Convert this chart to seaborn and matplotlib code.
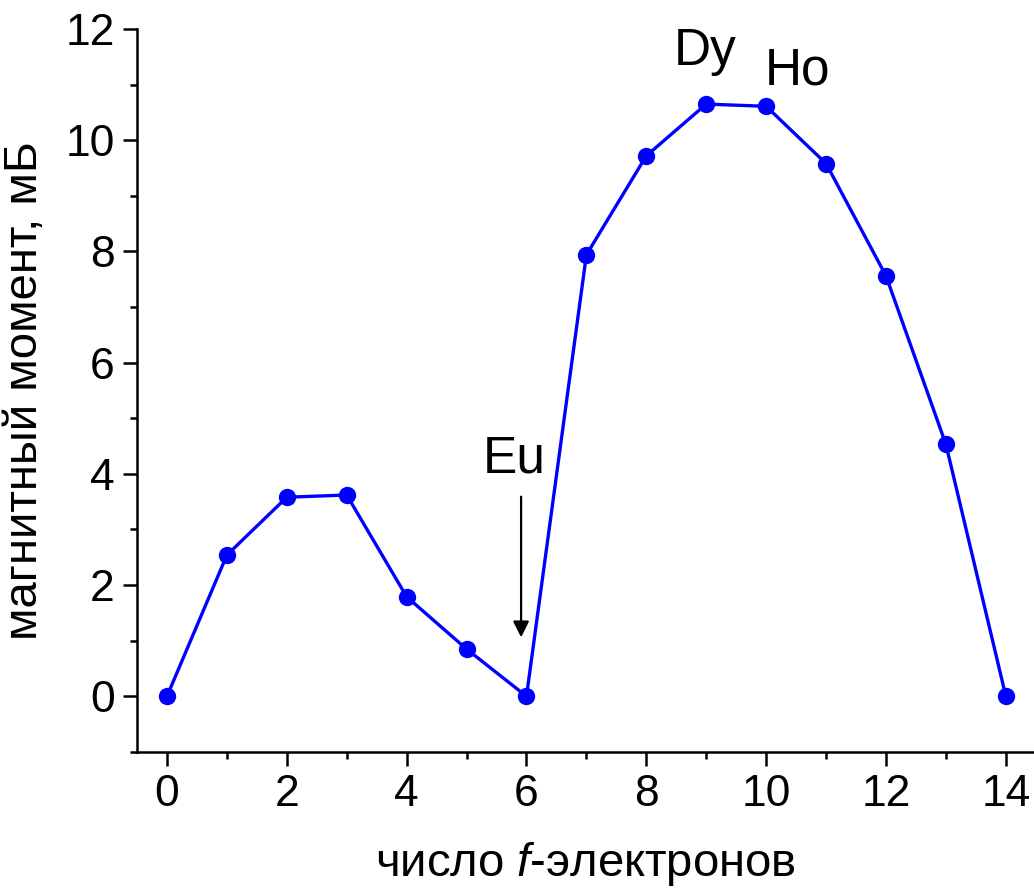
import numpy as np
import pandas as pd
import matplotlib
matplotlib.use("Agg")
import matplotlib.pyplot as plt
import seaborn as sns
from matplotlib.ticker import MultipleLocator

# number of f-electrons vs magnetic moment
n_f = [0, 1, 2, 3, 4, 5, 6, 7, 8, 9, 10, 11, 12, 13, 14]
moment = [0, 2.54, 3.58, 3.62, 1.79, 0.85, 0, 7.94, 9.72, 10.65, 10.61, 9.58, 7.56, 4.53, 0]

labels = ["Eu", "Dy", "Ho"]
label_x = [5.79, 8.98, 10.53]
label_y = [4.02, 11.35, 11.0]

sns.set_style("ticks")
plt.rcParams['font.family'] = ['Liberation Sans', 'DejaVu Sans']
plt.rcParams['mathtext.fontset'] = 'custom'
plt.rcParams['mathtext.rm'] = 'Liberation Sans'
plt.rcParams['mathtext.it'] = 'Liberation Sans:italic'
for k in ['text.color', 'axes.labelcolor', 'xtick.color', 'ytick.color', 'axes.edgecolor']:
    plt.rcParams[k] = 'black'

df = pd.DataFrame({"n": n_f, "mu": moment})

fig = plt.figure(figsize=(10.34, 8.93), dpi=100)
ax = fig.add_axes([0.1325, 0.158, 0.8675, 0.8095])

sns.lineplot(data=df, x="n", y="mu", ax=ax, color="#0000ff", linewidth=2.4,
             marker="o", markersize=12.5, markeredgewidth=0)

for t, x, y in zip(labels, label_x, label_y):
    ax.text(x, y, t, fontsize=37, ha="center", va="baseline")

# arrow pointing to Eu
ax.annotate("", xy=(5.91, 1.06), xytext=(5.91, 3.59),
            arrowprops=dict(arrowstyle="-|>", color="black", lw=1.6,
                            mutation_scale=24, shrinkA=0, shrinkB=0))

ax.set_xlim(-0.5, 14.47)
ax.set_ylim(-1, 12)
ax.xaxis.set_major_locator(MultipleLocator(2))
ax.xaxis.set_minor_locator(MultipleLocator(1))
ax.yaxis.set_major_locator(MultipleLocator(2))
ax.yaxis.set_minor_locator(MultipleLocator(1))

sns.despine(ax=ax)
for s in ["left", "bottom"]:
    ax.spines[s].set_linewidth(1.8)
ax.tick_params(which="major", length=10, width=1.8, labelsize=32, pad=6)
ax.tick_params(which="minor", length=5, width=1.8)

ax.set_xlabel(r"число $f$-электронов", fontsize=34, labelpad=18)
ax.set_ylabel("магнитный момент, мБ", fontsize=34, labelpad=13)

fig.savefig("out.png", dpi=100)
